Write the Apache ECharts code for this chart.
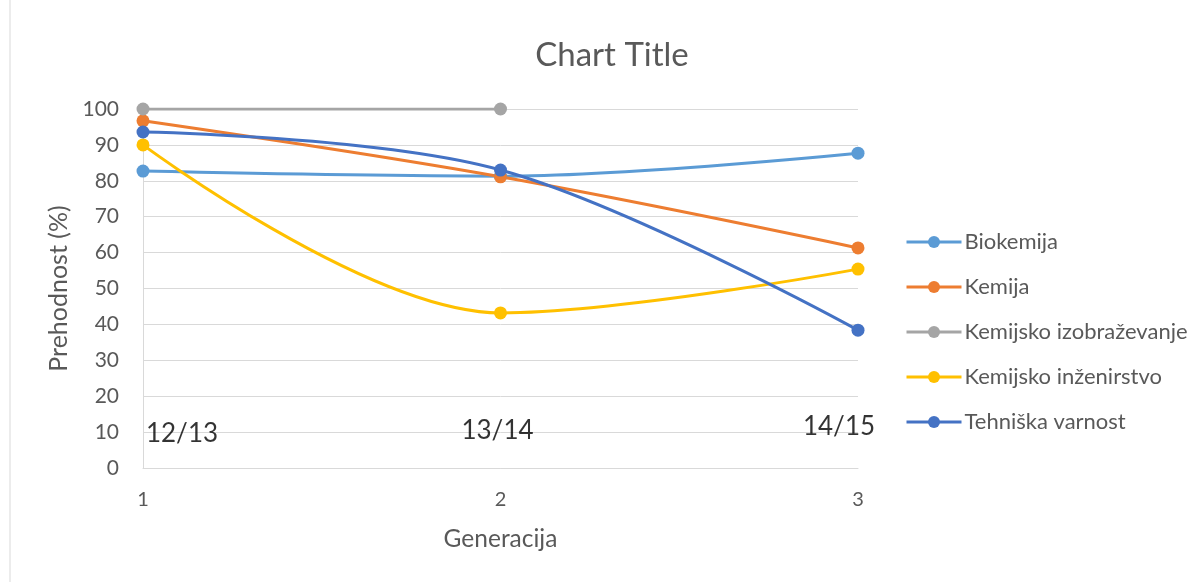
<!DOCTYPE html>
<html><head><meta charset="utf-8">
<script src="https://cdn.jsdelivr.net/npm/echarts@6/dist/echarts.min.js"></script>
<style>html,body{margin:0;padding:0;background:#fff}#c{width:1202px;height:582px}</style>
</head><body><div id="c"></div>
<script>
const categories = ['1', '2', '3'];
const biokemija = [82.7, 81.3, 87.7];
const kemija = [96.7, 81.1, 61.3];
const kemIzobrazevanje = [100, 100, null];
const kemInzenirstvo = [90, 43.2, 55.4];
const tehniskaVarnost = [93.6, 83.0, 38.4];
const seriesNames = ['Biokemija', 'Kemija', 'Kemijsko izobraževanje', 'Kemijsko inženirstvo', 'Tehniška varnost'];
const annotationText = ['12/13', '13/14', '14/15'];
const annotationY = [9.7, 10.3, 11.4];

const colors = ['#5B9BD5', '#ED7D31', '#A5A5A5', '#FFC000', '#4472C4'];
const annOffsets = [[39, 0], [-3, 0], [-19, 0]];
const font = 'Lato, "Open Sans", sans-serif';

const chart = echarts.init(document.getElementById('c'));
const dataSets = [biokemija, kemija, kemIzobrazevanje, kemInzenirstvo, tehniskaVarnost];
const lineSeries = dataSets.map((d, i) => ({
  name: seriesNames[i], type: 'line', data: d, smooth: i === 2 ? false : 0.35,
  symbol: 'circle', symbolSize: 13, showSymbol: true,
  lineStyle: { width: 3, color: colors[i] }, itemStyle: { color: colors[i] },
  connectNulls: false, z: 3
}));
const annSeries = {
  type: 'scatter', symbolSize: 0, silent: true, z: 5,
  data: annotationText.map((t, i) => ({
    value: [categories[i], annotationY[i]],
    label: { show: true, formatter: t, position: 'inside', offset: annOffsets[i],
      fontSize: 26, color: '#000', fontFamily: font }
  }))
};
chart.setOption({
  animation: false,
  color: colors,
  title: { text: 'Chart Title', left: 612, top: 39, textAlign: 'center', padding: 0,
    textStyle: { fontSize: 33, fontWeight: 'normal', color: '#595959', fontFamily: font } },
  legend: {
    orient: 'vertical', left: 905, top: 230, itemGap: 21, itemWidth: 55, itemHeight: 15,
    data: seriesNames, padding: 0,
    lineStyle: { width: 3 },
    textStyle: { fontSize: 22, lineHeight: 24, color: '#595959', fontFamily: font, padding: [0, 0, 0, -2] }
  },
  grid: { left: 143, right: 344, top: 109, bottom: 114 },
  xAxis: {
    type: 'category', data: categories, boundaryGap: false,
    name: 'Generacija', nameLocation: 'middle', nameGap: 59,
    nameTextStyle: { fontSize: 24.5, color: '#595959', fontFamily: font },
    axisLine: { lineStyle: { color: '#d9d9d9', width: 1 } },
    axisTick: { show: false },
    axisLabel: { fontSize: 20, color: '#595959', margin: 22, fontFamily: font },
    splitLine: { show: false }
  },
  yAxis: {
    type: 'value', min: 0, max: 100, interval: 10,
    name: 'Prehodnost (%)', nameLocation: 'middle', nameGap: 65, nameRotate: 90,
    nameTextStyle: { fontSize: 25, color: '#595959', fontFamily: font },
    axisLine: { show: true, lineStyle: { color: '#d9d9d9' } },
    axisTick: { show: false },
    axisLabel: { fontSize: 21, color: '#595959', margin: 24, fontFamily: font },
    splitLine: { lineStyle: { color: '#d9d9d9', width: 1 } }
  },
  graphic: [{ type: 'line', shape: { x1: 10, y1: 0, x2: 10, y2: 582 }, style: { stroke: '#d9d9d9', lineWidth: 1 } }],
  series: [...lineSeries, annSeries]
});
</script></body></html>
